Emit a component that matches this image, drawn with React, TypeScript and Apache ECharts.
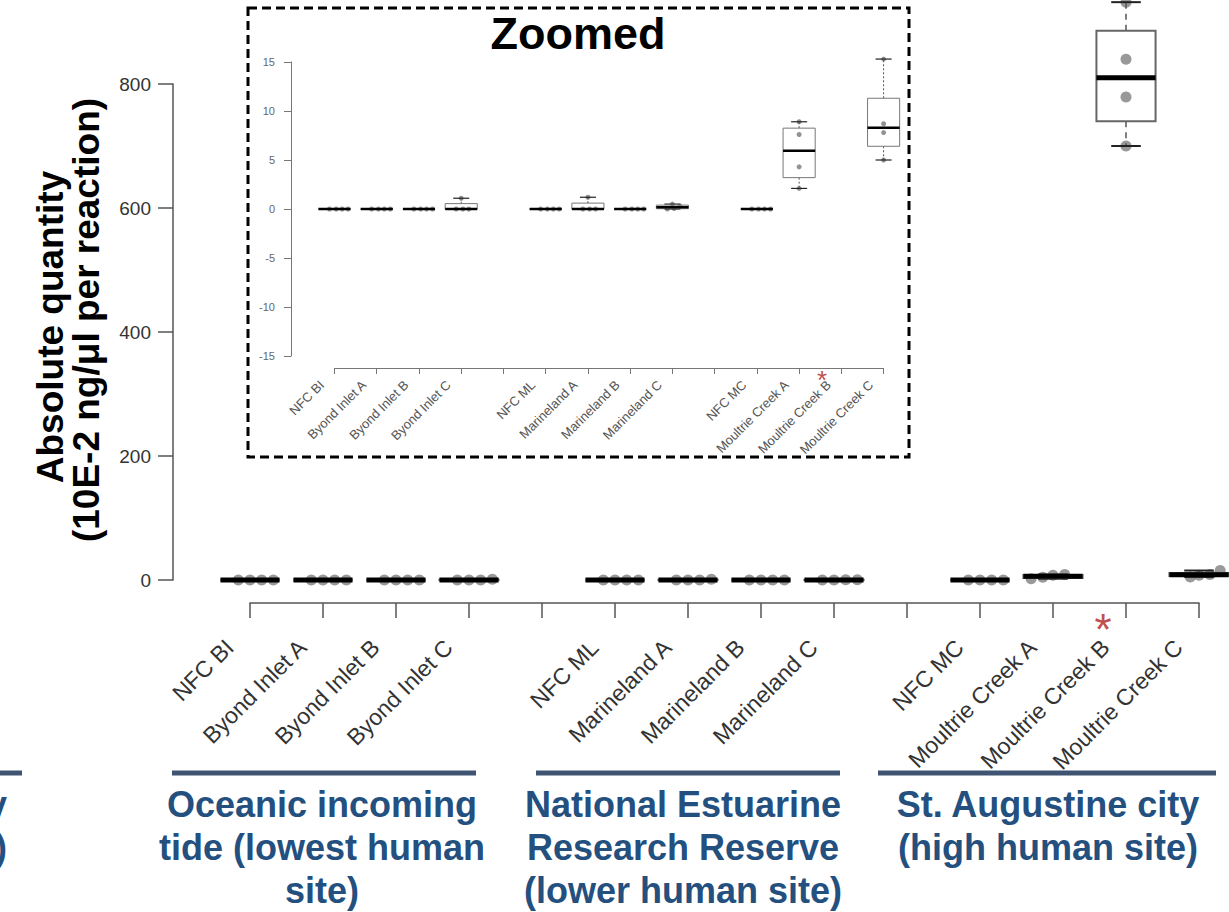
import React, { useEffect, useRef } from 'react';
import * as echarts from 'echarts';

const FONT = '"Liberation Sans", Arial, Helvetica, sans-serif';

// x-axis categories (two blank slots separate the sites)
const categories = [
  'NFC BI', 'Byond Inlet A', 'Byond Inlet B', 'Byond Inlet C', ' ',
  'NFC ML', 'Marineland A', 'Marineland B', 'Marineland C', '  ',
  'NFC MC', 'Moultrie Creek A', 'Moultrie Creek B', 'Moultrie Creek C',
];

// position of each sample on the category axis
const sampleIndex = [0, 1, 2, 3, 5, 6, 7, 8, 10, 11, 12, 13];

// box statistics (10E-2 ng/µl per reaction)
const boxMin = [0, 0, 0, 0, 0, 0, 0, 0, 0, 2.1, 700, 5.0];
const boxQ1 = [0, 0, 0, 0, 0, 0, 0, 0.03, 0, 3.2, 740, 6.4];
const boxMedian = [0, 0, 0, 0, 0, 0, 0, 0.18, 0, 5.95, 810, 8.3];
const boxQ3 = [0, 0, 0, 0.55, 0, 0.6, 0, 0.4, 0, 8.25, 886, 11.3];
const boxMax = [0, 0, 0, 1.1, 0, 1.2, 0, 0.5, 0, 8.9, 932, 15.3];

// individual replicates
const replicates: number[][] = [
  [0, 0, 0, 0],
  [0, 0, 0, 0],
  [0, 0, 0, 0],
  [0, 0, 0, 1.1],
  [0, 0, 0, 0],
  [0, 0, 0, 1.2],
  [0, 0, 0, 0],
  [0, 0.05, 0.3, 0.5],
  [0, 0, 0, 0],
  [2.1, 4.3, 7.6, 8.9],
  [700, 779, 840, 932],
  [5.0, 7.8, 8.7, 15.3],
];

// horizontal spread of replicate dots (fraction of category spacing)
const mainSpread: number[][] = [
  [-0.16, 0, 0.16, 0.32],
  [-0.16, 0, 0.16, 0.32],
  [-0.16, 0, 0.16, 0.32],
  [-0.16, 0, 0.16, 0.32],
  [-0.16, 0, 0.16, 0.32],
  [-0.16, 0, 0.16, 0.32],
  [-0.16, 0, 0.16, 0.32],
  [-0.16, 0, 0.16, 0.32],
  [-0.16, 0, 0.16, 0.32],
  [-0.3, -0.14, 0, 0.16],
  [0, 0, 0, 0],
  [-0.12, 0, 0.15, 0.29],
];
const insetSpread: number[][] = [
  [-0.12, 0.04, 0.18, 0.32],
  [-0.12, 0.04, 0.18, 0.32],
  [-0.12, 0.04, 0.18, 0.32],
  [-0.12, 0.04, 0.18, 0],
  [-0.12, 0.04, 0.18, 0.32],
  [-0.12, 0.04, 0.18, 0],
  [-0.12, 0.04, 0.18, 0.32],
  [-0.12, 0.04, 0.18, 0.0],
  [-0.12, 0.04, 0.18, 0.32],
  [0, 0, 0, 0],
  [0, 0, 0, 0],
  [0, 0, 0, 0],
];

const mainYMin = 0;
const mainYMax = 800;
const mainYStep = 200;
const insetYMin = -15;
const insetYMax = 15;
const insetYStep = 5;

const siteLabels = [
  'Oceanic incoming\ntide (lowest human\nsite)',
  'National Estuarine\nResearch Reserve\n(lower human site)',
  'St. Augustine city\n(high human site)',
];

type BoxStyle = {
  ratio: number;
  boxStroke: string;
  boxLW: number;
  medLW: number;
  whiskLW: number;
  whiskDash: number[];
  capLW: number;
};

function makeRender(s: BoxStyle) {
  return (params: any, api: any) => {
    const xi = api.value(0);
    const vals = [1, 2, 3, 4, 5].map((i) => api.value(i));
    const band = api.size([1, 0])[0];
    const half = (band * s.ratio) / 2;
    const pts = vals.map((v: number) => api.coord([xi, v]));
    const cx = pts[0][0];
    const [yMin, yQ1, yMed, yQ3, yMax] = pts.map((p: number[]) => p[1]);
    const whisk = { stroke: '#555', lineWidth: s.whiskLW, lineDash: s.whiskDash };
    const cap = { stroke: '#222', lineWidth: s.capLW };
    return {
      type: 'group',
      children: [
        { type: 'line', shape: { x1: cx, y1: yQ3, x2: cx, y2: yMax }, style: whisk },
        { type: 'line', shape: { x1: cx, y1: yQ1, x2: cx, y2: yMin }, style: whisk },
        { type: 'line', shape: { x1: cx - half / 2, y1: yMax, x2: cx + half / 2, y2: yMax }, style: cap },
        { type: 'line', shape: { x1: cx - half / 2, y1: yMin, x2: cx + half / 2, y2: yMin }, style: cap },
        {
          type: 'rect',
          shape: { x: cx - half, y: yQ3, width: 2 * half, height: Math.max(yQ1 - yQ3, 0) },
          style: { fill: 'none', stroke: s.boxStroke, lineWidth: s.boxLW },
        },
        { type: 'line', shape: { x1: cx - half, y1: yMed, x2: cx + half, y2: yMed }, style: { stroke: '#000', lineWidth: s.medLW } },
      ],
    };
  };
}

export default function App() {
  const ref = useRef<HTMLDivElement>(null);

  useEffect(() => {
    if (!ref.current) return;
    const chart = echarts.init(ref.current, undefined, { renderer: 'svg' });

    const boxData = sampleIndex.map((xi, i) => [xi, boxMin[i], boxQ1[i], boxMedian[i], boxQ3[i], boxMax[i]]);
    const insetKeep = sampleIndex.map((_, i) => boxMax[i] <= insetYMax * 1.1);
    const insetBoxData = boxData.filter((_, i) => insetKeep[i]);

    const mainPoints: number[][] = [];
    const insetPoints: number[][] = [];
    sampleIndex.forEach((xi, i) => {
      replicates[i].forEach((v, j) => {
        mainPoints.push([xi + mainSpread[i][j], v]);
        if (insetKeep[i]) insetPoints.push([xi + insetSpread[i][j], v]);
      });
    });

    const axisColor = '#555';

    const option: any = {
      animation: false,
      backgroundColor: '#fff',
      grid: [
        { left: 250, top: 84, width: 949, height: 496 },
        { left: 334.5, top: 62, width: 549.1, height: 294 },
      ],
      xAxis: [
        {
          type: 'category', gridIndex: 0, data: categories, boundaryGap: false, offset: 23,
          axisLine: { show: true, onZero: false, lineStyle: { color: axisColor, width: 1.5 } },
          axisTick: { show: true, length: 15, interval: 0, lineStyle: { color: axisColor, width: 1.5 } },
          axisLabel: {
            rotate: 45, interval: 0, fontSize: 23, color: '#333', fontFamily: FONT,
            margin: 20, padding: [0, 29, 0, 0],
          },
          splitLine: { show: false },
        },
        { type: 'value', gridIndex: 0, min: 0, max: categories.length - 1, show: false },
        {
          type: 'category', gridIndex: 1, data: categories, boundaryGap: false, offset: 12,
          axisLine: { show: true, onZero: false, lineStyle: { color: '#777', width: 1 } },
          axisTick: { show: true, length: 6, interval: 0, lineStyle: { color: '#777', width: 1 } },
          axisLabel: {
            rotate: 45, interval: 0, fontSize: 13, color: '#555', fontFamily: FONT,
            margin: 2, padding: [0, 18, 0, 0],
          },
          splitLine: { show: false },
        },
        { type: 'value', gridIndex: 1, min: 0, max: categories.length - 1, show: false },
      ],
      yAxis: [
        {
          type: 'value', gridIndex: 0, min: mainYMin, max: mainYMax, interval: mainYStep, offset: 77,
          axisLine: { show: true, onZero: false, lineStyle: { color: axisColor, width: 1.5 } },
          axisTick: { show: true, length: 15, lineStyle: { color: axisColor, width: 1.5 } },
          axisLabel: { fontSize: 19, color: '#333', fontFamily: FONT, margin: 22 },
          splitLine: { show: false },
        },
        {
          type: 'value', gridIndex: 1, min: insetYMin, max: insetYMax, interval: insetYStep, offset: 43.5,
          axisLine: { show: true, onZero: false, lineStyle: { color: '#777', width: 1 } },
          axisTick: { show: true, length: 7, lineStyle: { color: '#777', width: 1 } },
          axisLabel: { fontSize: 11, color: '#666', fontFamily: FONT, margin: 16 },
          splitLine: { show: false },
        },
      ],
      series: [
        {
          type: 'scatter', xAxisIndex: 1, yAxisIndex: 0, data: mainPoints, symbolSize: 11,
          itemStyle: { color: '#7f7f7f' }, clip: false, z: 2, silent: true,
        },
        {
          type: 'custom', xAxisIndex: 0, yAxisIndex: 0, data: boxData, clip: false, z: 3,
          encode: { x: 0, y: [1, 2, 3, 4, 5] },
          renderItem: makeRender({ ratio: 0.81, boxStroke: '#666', boxLW: 2, medLW: 5, whiskLW: 1.5, whiskDash: [6, 5], capLW: 2 }),
        },
        {
          type: 'scatter', xAxisIndex: 3, yAxisIndex: 1, data: insetPoints, symbolSize: 5,
          itemStyle: { color: '#777' }, clip: false, z: 2, silent: true,
        },
        {
          type: 'custom', xAxisIndex: 2, yAxisIndex: 1, data: insetBoxData, clip: false, z: 3,
          encode: { x: 0, y: [1, 2, 3, 4, 5] },
          renderItem: makeRender({ ratio: 0.76, boxStroke: '#777', boxLW: 1, medLW: 2.5, whiskLW: 1, whiskDash: [2, 2], capLW: 1.2 }),
        },
      ],
      graphic: [
        {
          type: 'rect', shape: { x: 248, y: 8, width: 661, height: 449 }, silent: true, z: 10,
          style: { fill: 'none', stroke: '#000', lineWidth: 3, lineDash: [9, 5] },
        },
        {
          type: 'text', x: 578, y: 33, z: 10,
          style: { text: 'Zoomed', font: `bold 45px ${FONT}`, fill: '#000', align: 'center', verticalAlign: 'middle' },
        },
        {
          type: 'text', x: 50, y: 327, rotation: Math.PI / 2, z: 10,
          style: { text: 'Absolute quantity', font: `bold 37px ${FONT}`, fill: '#000', align: 'center', verticalAlign: 'middle' },
        },
        {
          type: 'text', x: 86, y: 320, rotation: Math.PI / 2, z: 10,
          style: { text: '(10E-2 ng/\u03bcl per reaction)', font: `bold 37px ${FONT}`, fill: '#000', align: 'center', verticalAlign: 'middle' },
        },
        // site underlines
        { type: 'line', shape: { x1: 0, y1: 773, x2: 22, y2: 773 }, style: { stroke: '#3f5473', lineWidth: 5 } },
        { type: 'line', shape: { x1: 172, y1: 773, x2: 476, y2: 773 }, style: { stroke: '#3f5473', lineWidth: 5 } },
        { type: 'line', shape: { x1: 536, y1: 773, x2: 840, y2: 773 }, style: { stroke: '#3f5473', lineWidth: 5 } },
        { type: 'line', shape: { x1: 878, y1: 773, x2: 1216, y2: 773 }, style: { stroke: '#3f5473', lineWidth: 5 } },
        // site labels
        {
          type: 'text', x: 322, y: 783,
          style: { text: siteLabels[0], font: `bold 36px ${FONT}`, fill: '#24507f', align: 'center', verticalAlign: 'top', lineHeight: 43 },
        },
        {
          type: 'text', x: 683, y: 783,
          style: { text: siteLabels[1], font: `bold 36px ${FONT}`, fill: '#24507f', align: 'center', verticalAlign: 'top', lineHeight: 43 },
        },
        {
          type: 'text', x: 1048, y: 783,
          style: { text: siteLabels[2], font: `bold 36px ${FONT}`, fill: '#24507f', align: 'center', verticalAlign: 'top', lineHeight: 43 },
        },
        {
          type: 'text', x: 7, y: 783,
          style: { text: 'y\n)', font: `bold 36px ${FONT}`, fill: '#24507f', align: 'right', verticalAlign: 'top', lineHeight: 43 },
        },
        // significance asterisks
        {
          type: 'text', x: 1103, y: 629,
          style: { text: '*', font: `44px ${FONT}`, fill: '#c0504d', align: 'center', verticalAlign: 'middle' },
        },
        {
          type: 'text', x: 822, y: 380,
          style: { text: '*', font: `26px ${FONT}`, fill: '#c0504d', align: 'center', verticalAlign: 'middle' },
        },
      ],
    };

    chart.setOption(option);
    return () => chart.dispose();
  }, []);

  return (
    <div
      ref={ref}
      style={{ position: 'fixed', left: 0, top: 0, width: 1229, height: 912, background: '#fff' }}
    />
  );
}
